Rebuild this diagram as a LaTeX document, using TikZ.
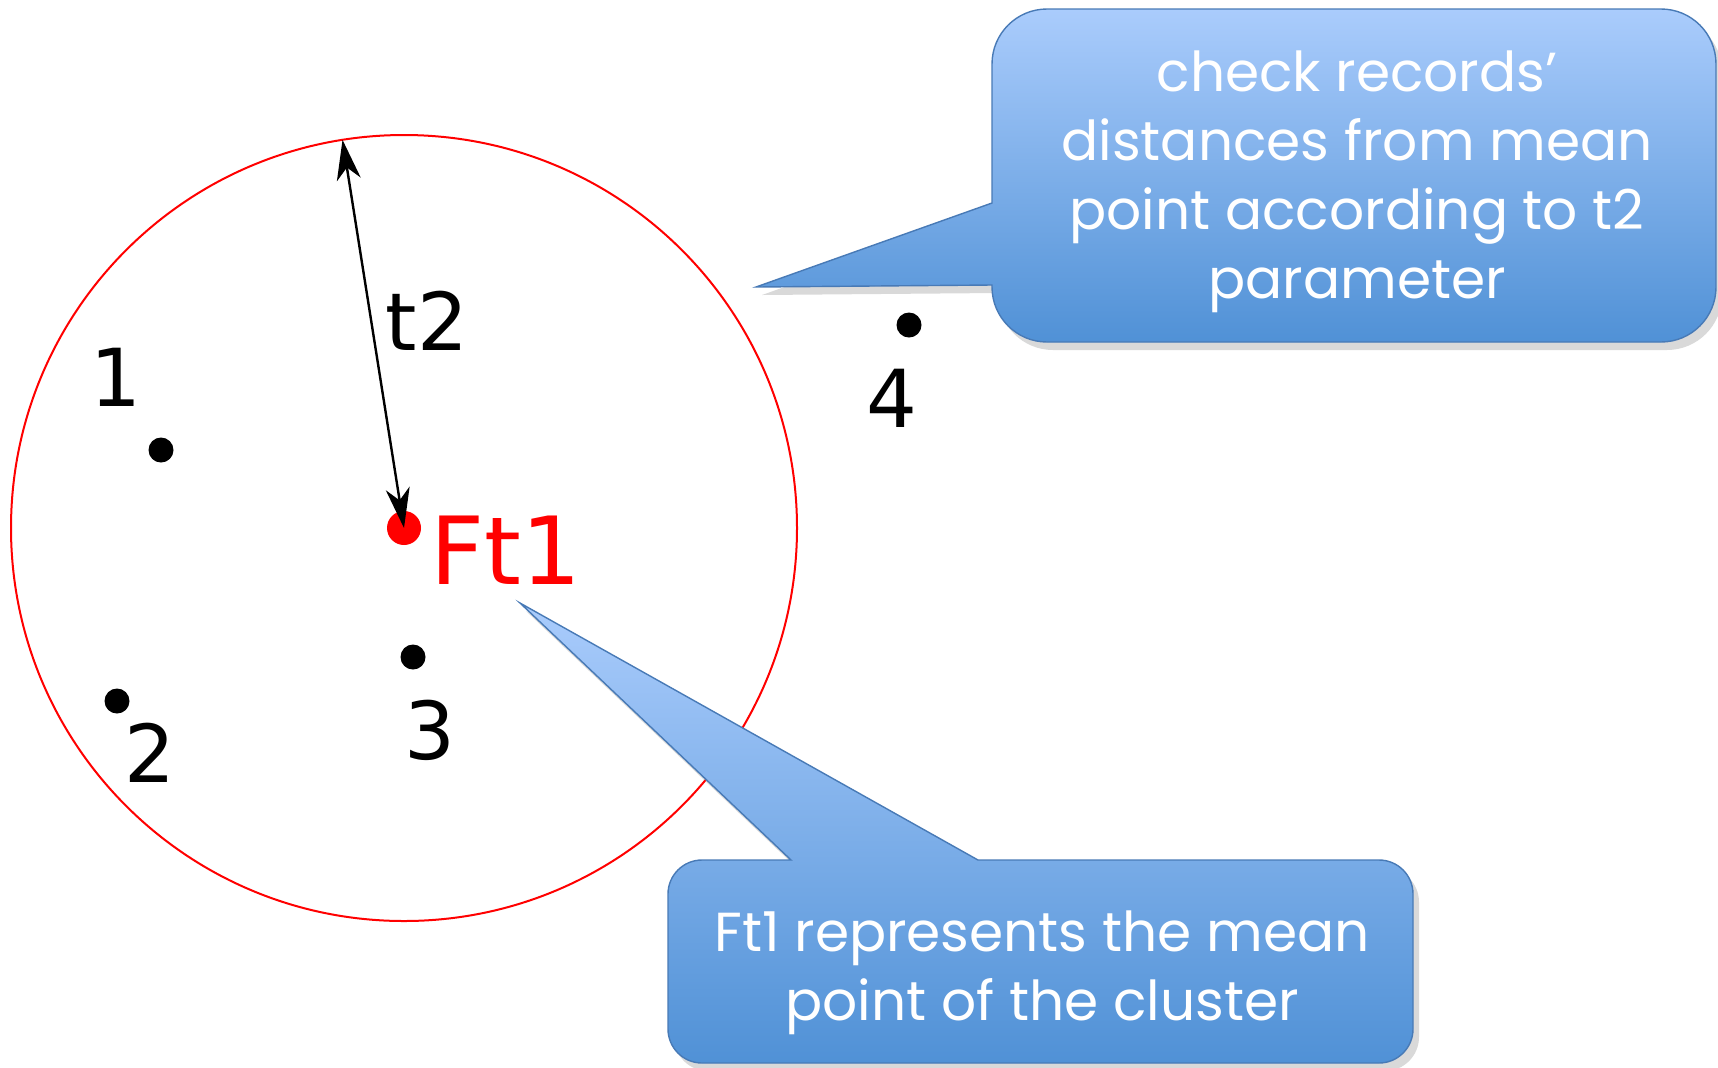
\documentclass[tikz,border=0pt]{standalone}
\usepackage{fontspec}
\usepackage{xcolor}
\usepackage{tikz}
\usetikzlibrary{arrows.meta, shadows}
\newfontfamily\labelfont{DejaVu Sans}
\newfontfamily\notefont{Poppins}
\definecolor{NoteTop}{RGB}{170, 204, 252}
\definecolor{NoteBottom}{RGB}{80, 145, 214}
\definecolor{NoteEdge}{RGB}{72, 122, 182}

\tikzset{
  dot/.style={circle, fill=black, inner sep=0pt, minimum size=12.5pt},
  ptlabel/.style={font=\labelfont\fontsize{40}{48}\selectfont, inner sep=0pt, anchor=base},
  note/.style={draw=NoteEdge, line width=0.7pt, top color=NoteTop, bottom color=NoteBottom,
    drop shadow={opacity=0.3, shadow xshift=3pt, shadow yshift=-4pt}},
  notetext/.style={text=white, align=center, inner sep=0pt,
    font=\notefont\fontsize{27.5}{34.5}\selectfont}
}

\begin{document}
\begin{tikzpicture}[x=0.5pt,y=-0.5pt]
  \useasboundingbox (0,0) rectangle (1718,1067);

  % cluster and its mean point
  \draw[red, line width=1pt] (404,528) circle[radius=393];
  \node[circle, fill=red, inner sep=0pt, minimum size=17pt] (ft) at (404,528) {};
  \node[ptlabel, text=red, font=\labelfont\fontsize{47}{56}\selectfont, anchor=base west] (ftlabel) at (430,584) {Ft1};
  \coordinate (rim) at ([shift={(-99:393)}]ft.center);
  \draw[line width=1.2pt, {Stealth[length=20pt,width=12pt,inset=6pt]}-{Stealth[length=20pt,width=12pt,inset=6pt]}] (rim) -- (ft.center);
  \node[ptlabel] (t2) at (427,350) {t2};

  \foreach \n/\x/\y/\lx/\ly in {1/161/450/116/406, 2/117/701/150/782, 3/413/657/430/759, 4/909/325/892/427}{
    \node[dot] (p\n) at (\x,\y) {};
    \node[ptlabel] (l\n) at (\lx,\ly) {\n};
  }

  % callouts
  \path[note] (756,287) -- (992,285) [rounded corners=27.5pt] -- (992,342) -- (1716,342) -- (1716,9) -- (992,9) [sharp corners] -- (992,203) -- cycle;
  \node[notetext] (note1) at (1357,182) {check records’\\distances from mean\\point according to t2\\parameter};

  \path[note] (520,603) -- (978,860) [rounded corners=17pt] -- (1413,860) -- (1413,1063) -- (668,1063) -- (668,860) [sharp corners] -- (791,860) -- cycle;
  \node[notetext] (note2) at (1042,973) {Ft1 represents the mean\\point of the cluster};
\end{tikzpicture}
\end{document}
